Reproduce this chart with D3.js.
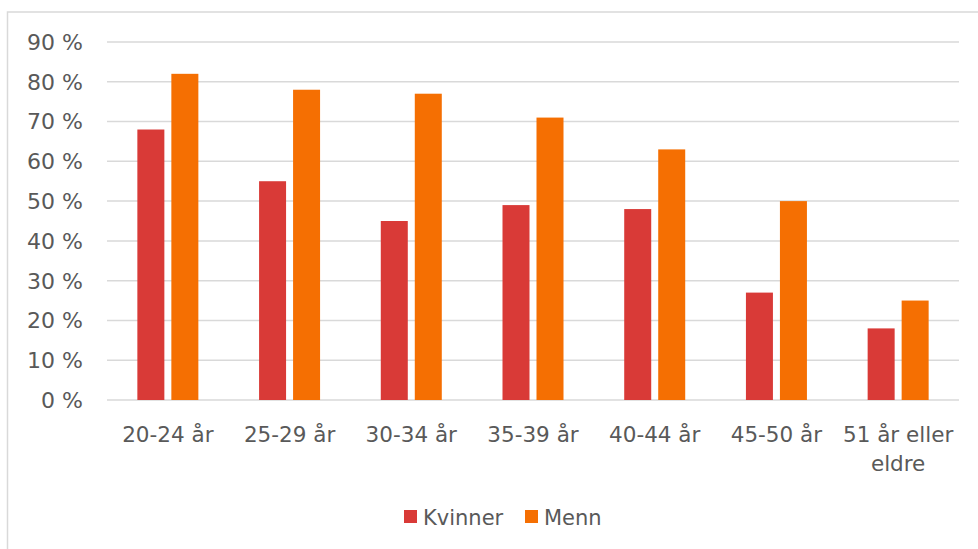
<!DOCTYPE html>
<html><head><meta charset="utf-8">
<script src="https://cdn.jsdelivr.net/npm/d3@7"></script>
<style>body{margin:0;background:#fff;}svg{display:block;}text{font-family:"DejaVu Sans",Verdana,sans-serif;fill:#595959;}</style>
</head><body>
<script>
const categories = ["20-24 år","25-29 år","30-34 år","35-39 år","40-44 år","45-50 år","51 år eller eldre"];
const seriesNames = ["Kvinner","Menn"];
const kvinner = [68,55,45,49,48,27,18];
const menn = [82,78,77,71,63,50,25];
const yTicks = [0,10,20,30,40,50,60,70,80,90];
const colors = ["#d93a37","#f56f02"];

(function(){
const W=978,H=549;
const svg=d3.select("body").append("svg").attr("width",W).attr("height",H);
svg.append("rect").attr("x",7.5).attr("y",12).attr("width",W+10).attr("height",H+10)
  .attr("fill","#fff").attr("stroke","#d9d9d9").attr("stroke-width",1.5);

const pL=107,pR=959,pT=42,pB=400;
const x=d3.scaleBand().domain(categories).range([pL,pR]);
const y=d3.scaleLinear().domain([0,90]).range([pB,pT]);

svg.append("g").selectAll("line").data(yTicks).join("line")
  .attr("x1",pL).attr("x2",pR).attr("y1",d=>y(d)).attr("y2",d=>y(d))
  .attr("stroke","#d9d9d9").attr("stroke-width",1.5);

svg.append("g").selectAll("text").data(yTicks).join("text")
  .attr("x",83).attr("y",d=>y(d)).attr("dy","0.36em").attr("text-anchor","end")
  .attr("font-size",22).text(d=>d+" %");

const barW=27, gap=7;
const data=categories.map((c,i)=>({c,vals:[kvinner[i],menn[i]]}));
const g=svg.append("g");
data.forEach(d=>{
  const cx=x(d.c)+x.bandwidth()/2;
  d.vals.forEach((v,j)=>{
    const bx = j===0 ? cx-gap/2-barW : cx+gap/2;
    g.append("rect").attr("x",bx).attr("y",y(v)).attr("width",barW).attr("height",y(0)-y(v))
      .attr("fill",colors[j]);
  });
});

const lab=svg.append("g");
categories.forEach(c=>{
  const cx=x(c)+x.bandwidth()/2;
  const lines = c==="51 år eller eldre" ? ["51 år eller","eldre"] : [c];
  lines.forEach((l,k)=>{
    lab.append("text").attr("x",cx).attr("y",442+k*29).attr("text-anchor","middle")
      .attr("font-size",21.5).text(l);
  });
});

const leg=svg.append("g");
const legItems=[{n:seriesNames[0],x:404},{n:seriesNames[1],x:525}];
legItems.forEach((it,i)=>{
  leg.append("rect").attr("x",it.x).attr("y",510).attr("width",13).attr("height",13).attr("fill",colors[i]);
  leg.append("text").attr("x",it.x+19).attr("y",525).attr("font-size",21).text(it.n);
});
})();
</script>
</body></html>
